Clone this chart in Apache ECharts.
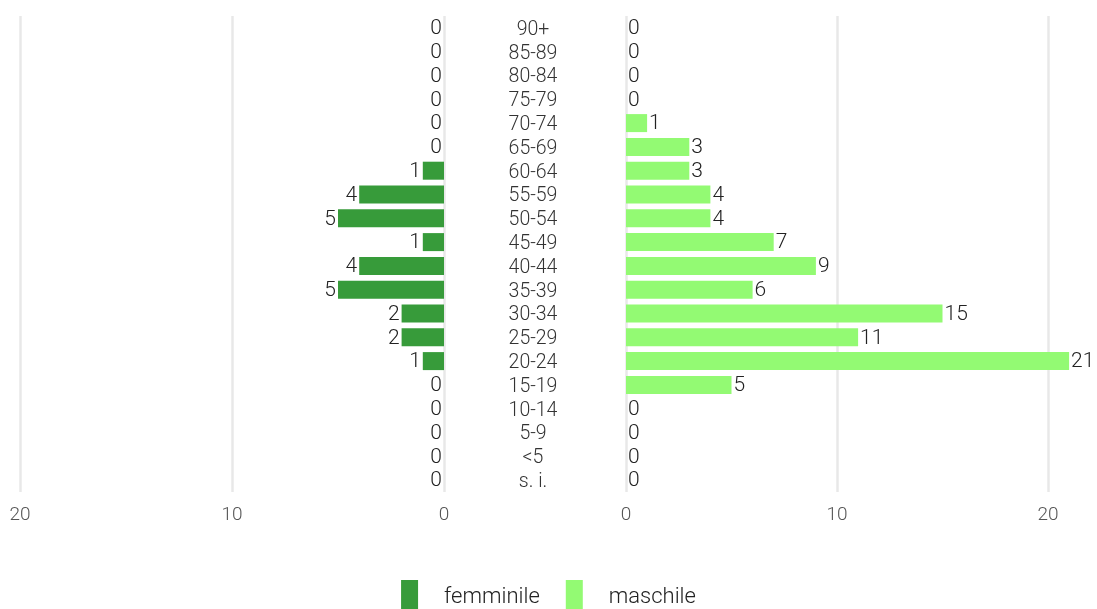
<!DOCTYPE html>
<html>
<head>
<meta charset="utf-8">
<script src="https://cdn.jsdelivr.net/npm/echarts@6/dist/echarts.min.js"></script>
<style>
  html, body { margin: 0; padding: 0; background: #fff; }
  #chart { width: 1097px; height: 609px; }
</style>
</head>
<body>
<div id="chart"></div>
<script>
var ageGroups = ['90+', '85-89', '80-84', '75-79', '70-74', '65-69', '60-64', '55-59', '50-54', '45-49',
                 '40-44', '35-39', '30-34', '25-29', '20-24', '15-19', '10-14', '5-9', '<5', 's. i.'];
var femminile = [0, 0, 0, 0, 0, 0, 1, 4, 5, 1, 4, 5, 2, 2, 1, 0, 0, 0, 0, 0];
var maschile  = [0, 0, 0, 0, 1, 3, 3, 4, 4, 7, 9, 6, 15, 11, 21, 5, 0, 0, 0, 0];
var axisTicks = [0, 10, 20];

var FONT = 'Roboto';
var colF = '#379b3a';
var colM = '#93fa73';

var chart = echarts.init(document.getElementById('chart'));

var xAxisBase = {
    type: 'value',
    min: axisTicks[0],
    max: axisTicks[axisTicks.length - 1],
    interval: 10,
    axisLine: { show: false },
    axisTick: { show: false },
    splitLine: { show: true, lineStyle: { color: '#e8e8e8', width: 2.5 } },
    axisLabel: { color: '#555', fontSize: 19, fontWeight: 300, fontFamily: FONT, margin: 14 }
};

var labelStyle = { show: true, distance: 2, offset: [0, 1], color: '#222', fontSize: 21, fontWeight: 300, fontFamily: FONT };

var option = {
    animation: false,
    grid: [
        { left: 20, width: 424, top: 16, bottom: 117 },
        { left: 626, width: 422, top: 16, bottom: 117 }
    ],
    legend: {
        data: ['femminile', 'maschile'],
        left: 'center',
        top: 575,
        itemWidth: 17,
        itemHeight: 34,
        itemGap: 26,
        icon: 'rect',
        textStyle: { fontSize: 22, fontWeight: 300, fontFamily: FONT, color: '#222', padding: [0, 0, 0, 21] }
    },
    xAxis: [
        Object.assign({ gridIndex: 0, inverse: true }, xAxisBase),
        Object.assign({ gridIndex: 1 }, xAxisBase)
    ],
    yAxis: [
        {
            gridIndex: 0,
            type: 'category',
            data: ageGroups,
            inverse: true,
            position: 'right',
            axisLine: { show: false },
            axisTick: { show: false },
            axisLabel: {
                interval: 0, align: 'center', margin: 89,
                verticalAlign: 'top', lineHeight: 4,
                color: '#333', fontSize: 19.5, fontWeight: 300, fontFamily: FONT
            }
        },
        {
            gridIndex: 1,
            type: 'category',
            data: ageGroups,
            inverse: true,
            axisLine: { show: false },
            axisTick: { show: false },
            axisLabel: { show: false }
        }
    ],
    series: [
        {
            name: 'femminile',
            type: 'bar',
            xAxisIndex: 0,
            yAxisIndex: 0,
            data: femminile,
            barWidth: 18,
            clip: false,
            itemStyle: { color: colF },
            label: Object.assign({ position: 'left' }, labelStyle)
        },
        {
            name: 'maschile',
            type: 'bar',
            xAxisIndex: 1,
            yAxisIndex: 1,
            data: maschile,
            barWidth: 18,
            clip: false,
            itemStyle: { color: colM },
            label: Object.assign({ position: 'right' }, labelStyle)
        }
    ]
};

chart.setOption(option);
window.onresize = chart.resize;
</script>
</body>
</html>
